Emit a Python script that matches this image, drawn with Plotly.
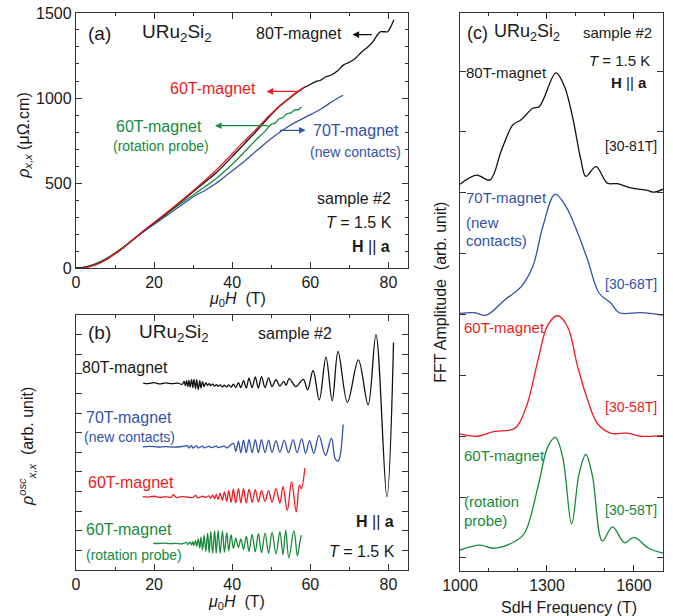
import plotly.graph_objects as go

FONT = "Liberation Sans, Arial, sans-serif"
INK = "#1a1a1a"
BLACK = "#111111"
RED = "#ec1c24"
BLUE = "#3352a8"
GREEN = "#178a3c"

# ---------------- (a) rho_xx versus field ----------------
field_80 = [0, 2, 5, 8, 10, 12, 15, 18, 20, 23, 26, 30, 33, 36, 40, 43, 46, 49, 52, 55, 58,
            60, 61.5, 62.5, 64, 65.5, 67, 68.5, 70, 71.5, 73, 74.5, 76, 77.2, 78, 79.8, 80.6, 81.4]
rho_80 = [0, 3, 20, 53, 84, 117, 174, 230, 265, 318, 374, 448, 505, 562, 655, 728, 800, 878, 948, 1005, 1055,
          1080, 1098, 1103, 1125, 1137, 1160, 1195, 1210, 1232, 1268, 1295, 1330, 1372, 1390, 1390, 1420, 1460]

field_60 = [0, 2, 5, 8, 10, 12, 15, 18, 20, 23, 26, 30, 33, 36, 40, 43, 46, 49, 52, 55, 57, 58.6]
rho_60 = [-3, 0, 18, 52, 84, 118, 175, 232, 268, 322, 378, 455, 515, 578, 672, 745, 812, 885, 952, 1008, 1042, 1068]

field_60rot = [0, 2, 5, 8, 10, 12, 15, 18, 20, 23, 26, 30, 33, 36, 40, 43, 46, 48, 50, 51, 52, 53, 54, 55, 56, 57, 57.7]
rho_60rot = [0, 4, 24, 58, 88, 120, 175, 230, 262, 314, 366, 430, 478, 528, 610, 680, 752, 795, 845, 852, 878, 885, 908, 912, 930, 932, 947]

field_70 = [0, 2, 5, 8, 10, 12, 15, 18, 20, 23, 26, 30, 33, 36, 40, 43, 46, 50, 53, 56, 60, 63, 66, 68.4]
rho_70 = [0, 4, 24, 58, 88, 120, 174, 226, 256, 305, 354, 418, 456, 500, 572, 625, 685, 762, 812, 855, 902, 940, 985, 1016]

# ---------------- (b) oscillatory part, offset traces ----------------
osc80_B = [17.2, 18.5, 20, 21.5, 23, 24.5, 26, 27.2,
           27.7, 28.0, 28.3, 28.6, 28.9, 29.2, 29.6, 29.9, 30.2, 30.6, 30.9, 31.3, 31.7, 32.0, 32.4, 32.8, 33.25, 33.7,
           34.1, 34.5, 35.0, 35.5, 36.0, 36.4, 36.9, 37.5, 38.0, 38.6, 39.1, 39.7, 40.3, 40.9, 41.6, 42.2, 42.9, 43.6,
           44.3, 45.1, 45.9, 46.7, 47.5, 48.4, 49.3, 50.2, 51.2, 52.2, 53.2, 53.8, 54.6, 56.3, 58.2, 59.3,
           60.7, 62.3, 64.0, 65.6, 67.1, 69.5, 72.3, 74.8, 76.8, 79.6, 81.3]
osc80_amp = [9.53, 9.50, 9.55, 9.49, 9.54, 9.50, 9.53, 9.47,
             9.62, 9.40, 9.65, 9.35, 9.68, 9.33, 9.70, 9.30, 9.72, 9.25, 9.70, 9.20, 9.65, 9.28, 9.60, 9.35, 9.55, 9.42,
             9.50, 9.40, 9.48, 9.38, 9.45, 9.36, 9.44, 9.34, 9.42, 9.33, 9.44, 9.32, 9.48, 9.30, 9.55, 9.30, 9.65, 9.28,
             9.78, 9.30, 9.84, 9.28, 9.86, 9.30, 9.80, 9.35, 9.70, 9.38, 9.62, 9.42, 9.76, 9.35, 9.72, 9.18,
             10.17, 8.67, 10.85, 8.62, 11.14, 8.55, 10.71, 8.42, 12.0, 3.74, 11.6]

osc70_B = [17.1, 19, 21, 23, 25, 27, 28.6, 28.9, 29.6, 29.9, 30.9, 31.3, 32.4, 32.8, 34.1, 34.5, 36.0, 36.4, 38.0, 38.6,
           40.3, 40.9, 41.6, 42.2, 42.9, 43.6, 44.3, 45.1, 45.9, 46.7, 47.5, 48.4, 49.3, 50.2, 51.2, 52.2,
           53.3, 54.4, 55.6, 56.6, 57.8, 58.8, 59.8, 60.9, 62.2, 63.9, 65.4, 66.4, 67.1, 67.6, 68.4]
osc70_amp = [6.28, 6.30, 6.27, 6.29, 6.26, 6.29, 6.33, 6.22, 6.34, 6.22, 6.33, 6.22, 6.32, 6.23, 6.31, 6.24, 6.31, 6.24, 6.31, 6.22,
             6.45, 6.05, 6.55, 5.98, 6.62, 5.98, 6.65, 5.98, 6.65, 5.98, 6.65, 5.98, 6.62, 6.00, 6.60, 6.00,
             6.62, 5.98, 6.65, 5.98, 6.68, 5.95, 6.60, 5.95, 6.86, 5.85, 6.72, 5.65, 5.55, 5.80, 7.42]

osc60_B = [17.1, 18.5, 20, 21.5, 23, 24.3, 25.0, 25.6, 27, 28.5, 30, 30.6, 31.3, 32.4, 33.2, 34.1, 34.5, 35.0, 35.5,
           35.9, 36.4, 36.9, 37.5, 38.0, 38.6, 39.1, 39.7, 40.3, 40.9, 41.6, 42.2, 42.9, 43.6, 44.3, 45.1, 45.9,
           46.7, 47.5, 48.4, 49.3, 50.2, 51.2, 52.2, 53.0, 54.1, 55.2, 56.4, 57.2, 57.7, 58.6]
osc60_amp = [3.74, 3.72, 3.76, 3.70, 3.74, 3.70, 3.84, 3.70, 3.74, 3.72, 3.70, 3.80, 3.68, 3.76, 3.70, 3.78, 3.66, 3.82, 3.64,
             3.86, 3.60, 3.92, 3.56, 3.98, 3.50, 4.05, 3.45, 4.12, 3.42, 4.15, 3.42, 4.15, 3.42, 4.12, 3.45, 4.10,
             3.48, 4.05, 3.50, 4.05, 3.45, 4.15, 3.40, 4.25, 3.04, 4.50, 2.96, 4.33, 4.15, 5.19]

osc60rot_B = [19.8, 21, 22.5, 24, 25.5, 27, 28.3, 28.6, 29.2, 29.6, 29.9, 30.2, 30.6, 30.9, 31.3, 31.7, 32.0, 32.4, 32.8,
              33.25, 33.7, 34.1, 34.5, 35.0, 35.5, 35.9, 36.4, 36.9, 37.5, 38.0, 38.6, 39.1, 39.7, 40.3, 40.9, 41.6,
              42.2, 42.9, 43.6, 44.3, 45.1, 45.9, 46.7, 47.5, 48.4, 49.3, 50.2, 51.2, 52.2, 53.0, 53.7, 54.5, 55.8,
              56.7, 57.3, 57.7]
osc60rot_amp = [1.36, 1.35, 1.37, 1.34, 1.36, 1.33, 1.40, 1.30, 1.42, 1.28, 1.45, 1.25, 1.50, 1.20, 1.58, 1.12, 1.68, 1.02, 1.78,
                0.95, 1.88, 0.88, 1.95, 0.85, 2.00, 0.85, 2.02, 0.86, 1.98, 0.90, 1.90, 0.98, 1.80, 1.10, 1.62, 1.15,
                1.58, 1.05, 1.72, 0.95, 1.82, 0.92, 1.85, 0.88, 1.88, 0.85, 1.92, 0.82, 1.95, 0.78, 2.02, 0.62, 2.00,
                0.72, 1.40, 1.78]

# ---------------- (c) FFT spectra, offset traces ----------------
fft80_F = [1000, 1057, 1103, 1143, 1183, 1211, 1251, 1274, 1331, 1360, 1388, 1417, 1434, 1469, 1508, 1543, 1589, 1646, 1668, 1700]
fft80_A = [6.14, 6.29, 6.21, 6.70, 7.12, 7.20, 7.39, 7.42, 7.97, 7.75, 7.25, 6.54, 6.27, 6.43, 6.16, 6.15, 6.08, 6.04, 6.01, 6.06]

fft70_F = [1000, 1050, 1091, 1154, 1211, 1251, 1286, 1328, 1366, 1406, 1440, 1480, 1520, 1549, 1623, 1700]
fft70_A = [4.02, 4.03, 3.99, 4.24, 4.46, 4.79, 5.45, 5.98, 5.77, 5.34, 4.90, 4.35, 4.19, 4.03, 4.03, 3.99]

fft60_F = [1000, 1057, 1120, 1189, 1229, 1269, 1303, 1337, 1371, 1406, 1440, 1474, 1520, 1577, 1623, 1700]
fft60_A = [2.04, 2.00, 2.08, 2.13, 2.49, 3.25, 3.83, 3.98, 3.80, 3.14, 2.60, 2.21, 2.05, 2.05, 2.00, 2.01]

fft60rot_F = [1000, 1069, 1114, 1189, 1223, 1269, 1303, 1329, 1354, 1385, 1411, 1434, 1457, 1491, 1526, 1568, 1600, 1651, 1700]
fft60rot_A = [0.13, 0.21, 0.16, 0.27, 0.41, 1.17, 1.83, 1.98, 1.66, 0.56, 1.39, 1.70, 1.34, 0.28, 0.51, 0.25, 0.34, 0.16, 0.08]

fig = go.Figure()


def curve(x, y, color, xa, ya, smooth=1.0):
    fig.add_trace(go.Scatter(x=x, y=y, mode="lines", xaxis=xa, yaxis=ya,
                             line=dict(color=color, width=1.3, shape="spline", smoothing=smooth),
                             showlegend=False, hoverinfo="skip"))


# panel (a)
curve(field_70, rho_70, BLUE, "x", "y", 0.6)
curve(field_60rot, rho_60rot, GREEN, "x", "y", 0.6)
curve(field_80, rho_80, BLACK, "x", "y", 0.6)
curve(field_60, rho_60, RED, "x", "y", 0.6)

# panel (b)
curve(osc80_B, osc80_amp, BLACK, "x2", "y2")
curve(osc70_B, osc70_amp, BLUE, "x2", "y2")
curve(osc60_B, osc60_amp, RED, "x2", "y2")
curve(osc60rot_B, osc60rot_amp, GREEN, "x2", "y2")

# panel (c)
curve(fft80_F, fft80_A, BLACK, "x3", "y3")
curve(fft70_F, fft70_A, BLUE, "x3", "y3")
curve(fft60_F, fft60_A, RED, "x3", "y3")
curve(fft60rot_F, fft60rot_A, GREEN, "x3", "y3")

axis_common = dict(showline=True, linecolor="#333333", linewidth=1.3, mirror="allticks",
                   ticks="inside", ticklen=6, tickwidth=1, tickcolor="#333333",
                   showgrid=False, zeroline=False, automargin=False,
                   tickfont=dict(family=FONT, size=16, color=INK))

fig.update_layout(
    width=673, height=616, margin=dict(l=0, r=0, t=0, b=0, autoexpand=False),
    paper_bgcolor="white", plot_bgcolor="white",
    font=dict(family=FONT, color=INK),
    xaxis=dict(domain=[0.1129, 0.6062], anchor="y", range=[0, 85], dtick=20, tick0=0,
               minor=dict(dtick=10, ticks="inside", ticklen=3, tickcolor="#333333"), **axis_common),
    yaxis=dict(domain=[0.5649, 0.9789], anchor="x", range=[0, 1500], dtick=500, tick0=0,
               minor=dict(dtick=100, ticks="inside", ticklen=3, tickcolor="#333333"), **axis_common),
    xaxis2=dict(domain=[0.1129, 0.6062], anchor="y2", range=[0, 85], dtick=20, tick0=0,
                minor=dict(dtick=10, ticks="inside", ticklen=3, tickcolor="#333333"), **axis_common),
    yaxis2=dict(domain=[0.0747, 0.4886], anchor="x2", range=[0, 13], dtick=1, tick0=0,
                showticklabels=False, **axis_common),
    xaxis3=dict(domain=[0.6835, 0.9851], anchor="y3", range=[1000, 1700], dtick=300, tick0=1000,
                minor=dict(dtick=100, ticks="inside", ticklen=3, tickcolor="#333333"), **axis_common),
    yaxis3=dict(domain=[0.0731, 0.9789], anchor="x3", range=[-0.2136, 8.955], dtick=1, tick0=0,
                showticklabels=False, **axis_common),
)

ann = []


def label(text, x, y, xr, yr, size=16, color=INK, xanchor="center", yanchor="middle", angle=0):
    ann.append(dict(text=text, x=x, y=y, xref=xr, yref=yr, showarrow=False,
                    xanchor=xanchor, yanchor=yanchor, textangle=angle,
                    font=dict(family=FONT, size=size, color=color)))


def arrow(tip, tail, color, xr="x", yr="y"):
    ann.append(dict(text="", x=tip[0], y=tip[1], ax=tail[0], ay=tail[1], xref=xr, yref=yr,
                    axref=xr, ayref=yr, showarrow=True, arrowhead=2, arrowsize=1.1,
                    arrowwidth=1.2, arrowcolor=color))


formula = "URu<sub>2</sub>Si<sub>2</sub>"

# panel (a) labels
label("(a)", 6.1, 1382, "x", "y", size=19)
label(formula, 25.8, 1382, "x", "y", size=19)
label("80T-magnet", 68.5, 1382, "x", "y", size=16, xanchor="right")
arrow((70.8, 1373), (76.1, 1373), BLACK)
label("60T-magnet", 46.6, 1053, "x", "y", size=16, color=RED, xanchor="right")
arrow((48.8, 1039), (57.3, 1039), RED)
label("60T-magnet", 21.2, 835, "x", "y", size=16, color=GREEN)
label("(rotation probe)", 21.7, 718, "x", "y", size=14, color=GREEN)
arrow((35.6, 837), (49.6, 837), GREEN)
label("70T-magnet", 71.6, 806, "x", "y", size=16, color=BLUE)
label("(new contacts)", 71.5, 682, "x", "y", size=14, color=BLUE)
arrow((58.8, 810), (51.8, 810), BLUE)
label("sample #2", 81.1, 406, "x", "y", size=16, xanchor="right")
label("<i>T</i> = 1.5 K", 81.3, 265, "x", "y", size=16, xanchor="right")
label("<b>H</b> || <b>a</b>", 81.0, 124, "x", "y", size=16, xanchor="right")

# panel (b) labels
label("(b)", 6.1, 12.09, "x2", "y2", size=19)
label(formula, 25.2, 12.09, "x2", "y2", size=19)
label("sample #2", 56.2, 12.04, "x2", "y2", size=16)
label("80T-magnet", 12.5, 10.3, "x2", "y2", size=16)
label("70T-magnet", 13.6, 7.76, "x2", "y2", size=16, color=BLUE)
label("(new contacts)", 13.8, 6.78, "x2", "y2", size=14, color=BLUE)
label("60T-magnet", 14.2, 4.44, "x2", "y2", size=16, color=RED)
label("60T-magnet", 13.6, 2.04, "x2", "y2", size=16, color=GREEN)
label("(rotation probe)", 14.8, 0.77, "x2", "y2", size=14, color=GREEN)
label("<b>H</b> || <b>a</b>", 81.9, 2.45, "x2", "y2", size=16, xanchor="right")
label("<i>T</i> = 1.5 K", 82.1, 0.92, "x2", "y2", size=16, xanchor="right")

# panel (c) labels
label("(c)", 1060, 8.63, "x3", "y3", size=18)
label(formula, 1231, 8.63, "x3", "y3", size=18)
label("sample #2", 1668, 8.63, "x3", "y3", size=15, xanchor="right")
label("<i>T</i> = 1.5 K", 1662, 8.18, "x3", "y3", size=15, xanchor="right")
label("<b>H</b> || <b>a</b>", 1651, 7.82, "x3", "y3", size=15, xanchor="right")
label("80T-magnet", 1014, 7.97, "x3", "y3", size=15, xanchor="left")
label("[30-81T]", 1686, 6.77, "x3", "y3", size=14, xanchor="right")
label("70T-magnet", 1014, 5.93, "x3", "y3", size=15, color=BLUE, xanchor="left")
label("(new", 1014, 5.52, "x3", "y3", size=15, color=BLUE, xanchor="left")
label("contacts)", 1014, 5.21, "x3", "y3", size=15, color=BLUE, xanchor="left")
label("[30-68T]", 1686, 4.50, "x3", "y3", size=14, color=BLUE, xanchor="right")
label("60T-magnet", 1007, 3.78, "x3", "y3", size=15, color=RED, xanchor="left")
label("[30-58T]", 1686, 2.48, "x3", "y3", size=14, color=RED, xanchor="right")
label("60T-magnet", 1007, 1.69, "x3", "y3", size=15, color=GREEN, xanchor="left")
label("(rotation", 1007, 0.92, "x3", "y3", size=15, color=GREEN, xanchor="left")
label("probe)", 1007, 0.62, "x3", "y3", size=15, color=GREEN, xanchor="left")
label("[30-58T]", 1686, 0.79, "x3", "y3", size=14, color=GREEN, xanchor="right")

# axis titles
label("<i>μ</i><sub>0</sub><i>H</i>  (T)", 0.353, 0.513, "paper", "paper", size=16)
label("<i>μ</i><sub>0</sub><i>H</i>  (T)", 0.351, 0.0227, "paper", "paper", size=16)
label("SdH Frequency (T)", 0.845, 0.0146, "paper", "paper", size=16)
label("<i>ρ</i><sub><i>x,x</i></sub> (μΩ.cm)", 0.037, 0.781, "paper", "paper", size=16, angle=-90)
label("<i>ρ</i><sup><i>osc</i></sup><sub><i>x,x</i></sub>  (arb. unit)", 0.040, 0.276, "paper", "paper", size=16, angle=-90)
label("FFT Amplitude  (arb. unit)", 0.655, 0.526, "paper", "paper", size=16, angle=-90)

fig.update_layout(annotations=ann)

fig.write_html("out.html")
